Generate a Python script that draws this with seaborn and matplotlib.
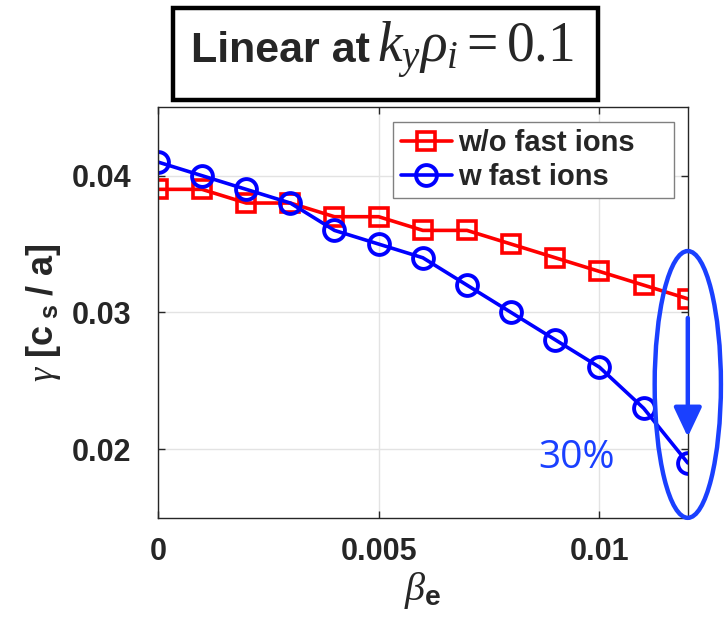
"""
Growth rate vs beta_e, with and without fast ions (linear, ky*rho_i = 0.1).
Output: out.png
"""

import numpy as np
import matplotlib
matplotlib.use('Agg')
import matplotlib.pyplot as plt
from matplotlib.patches import Ellipse, Rectangle
import seaborn as sns

# Data
beta_e = [0.0, 0.001, 0.002, 0.003, 0.004, 0.005, 0.006,
          0.007, 0.008, 0.009, 0.010, 0.011, 0.012]
gamma_no_fast = [0.039, 0.039, 0.038, 0.038, 0.037, 0.037, 0.036,
                 0.036, 0.035, 0.034, 0.033, 0.032, 0.031]
gamma_fast = [0.041, 0.040, 0.039, 0.038, 0.036, 0.035, 0.034,
              0.032, 0.030, 0.028, 0.026, 0.023, 0.019]
x_ticks = [0, 0.005, 0.01]
x_ticklabels = ['0', '0.005', '0.01']
y_ticks = [0.02, 0.03, 0.04]
y_ticklabels = ['0.02', '0.03', '0.04']

sns.set_style('ticks')
plt.rcParams['font.family'] = ['Liberation Sans', 'DejaVu Sans']
plt.rcParams['font.weight'] = 'bold'
plt.rcParams['mathtext.fontset'] = 'custom'
plt.rcParams['mathtext.it'] = 'Liberation Serif:style=italic:weight=normal'
plt.rcParams['mathtext.rm'] = 'Liberation Serif:weight=normal'
plt.rcParams['mathtext.bf'] = 'Liberation Sans:weight=bold'
plt.rcParams['mathtext.sf'] = 'Liberation Sans:weight=bold'

RED = '#ff0000'
BLUE = '#0000ff'
ANNOT = '#1a40ff'

fig = plt.figure(figsize=(7.24, 6.2), dpi=100)
ax = fig.add_axes([0.218, 0.165, 0.732, 0.662])

# trailing spaces give the wide right margin of the original legend box
sns.lineplot(x=beta_e, y=gamma_no_fast, ax=ax, color=RED, marker='s',
             markersize=13, markerfacecolor='none', markeredgecolor=RED,
             markeredgewidth=2.6, linewidth=2.6, label='w/o fast ions    ')
sns.lineplot(x=beta_e, y=gamma_fast, ax=ax, color=BLUE, marker='o',
             markersize=15, markerfacecolor='none', markeredgecolor=BLUE,
             markeredgewidth=2.8, linewidth=2.6, label='w fast ions')

ax.set_xlim(0, 0.012)
ax.set_ylim(0.015, 0.045)
ax.set_xticks(x_ticks)
ax.set_xticklabels(x_ticklabels)
ax.set_yticks(y_ticks)
ax.set_yticklabels(y_ticklabels)
ax.grid(True, color='#e3e3e3', linewidth=1)
ax.set_axisbelow(True)
for sp in ax.spines.values():
    sp.set_visible(True)
    sp.set_color('#262626')
    sp.set_linewidth(1)
ax.tick_params(axis='both', direction='in', length=5, width=1,
               colors='#262626', labelsize=22, top=True, right=True)
ax.tick_params(axis='y', pad=19)
ax.tick_params(axis='x', pad=14)

ax.set_xlabel(r'$\beta_{\mathbf{e}}$', fontsize=29, labelpad=2,
              fontweight='bold')
ax.set_ylabel(r'$\gamma$ [c$\;_{\mathbf{s}}\;$/ a]', fontsize=26,
              labelpad=6, fontweight='bold')

leg = ax.legend(loc='upper right', bbox_to_anchor=(0.974, 0.964),
                borderaxespad=0, fontsize=21, handlelength=1.75,
                handletextpad=0.2, labelspacing=0.2, borderpad=0.25,
                fancybox=False, framealpha=1, edgecolor='#808080')
leg.get_frame().set_linewidth(1)

# annotation: ellipse, arrow and drop percentage
ax.add_patch(Ellipse((0.012, 0.02474), 0.0015, 0.0195, fill=False,
                     edgecolor=ANNOT, linewidth=3.2, clip_on=False, zorder=5))
ax.annotate('', xy=(0.012, 0.0209), xytext=(0.012, 0.0296),
            arrowprops=dict(arrowstyle='-|>,head_length=1.8,head_width=0.85',
                            color=ANNOT, linewidth=3.2, shrinkA=0, shrinkB=0),
            zorder=5)
ax.text(0.00948, 0.0194, '30%', color=ANNOT, fontsize=28,
        fontfamily='Open Sans', fontweight='normal', ha='center', va='center')

# title box
fig.patches.append(Rectangle((173 / 724, 1 - 100 / 620), 425 / 724, 92 / 620,
                             transform=fig.transFigure, fill=True,
                             facecolor='white', edgecolor='black',
                             linewidth=3.2, zorder=3))
fig.text(0.511, 0.9, 'Linear at', fontsize=31, fontweight='bold',
         ha='right', va='baseline', zorder=4)
fig.text(0.521, 0.9, r'$k_y\rho_i = 0.1$', fontsize=40,
         ha='left', va='baseline', zorder=4)

fig.savefig('out.png', dpi=100)
